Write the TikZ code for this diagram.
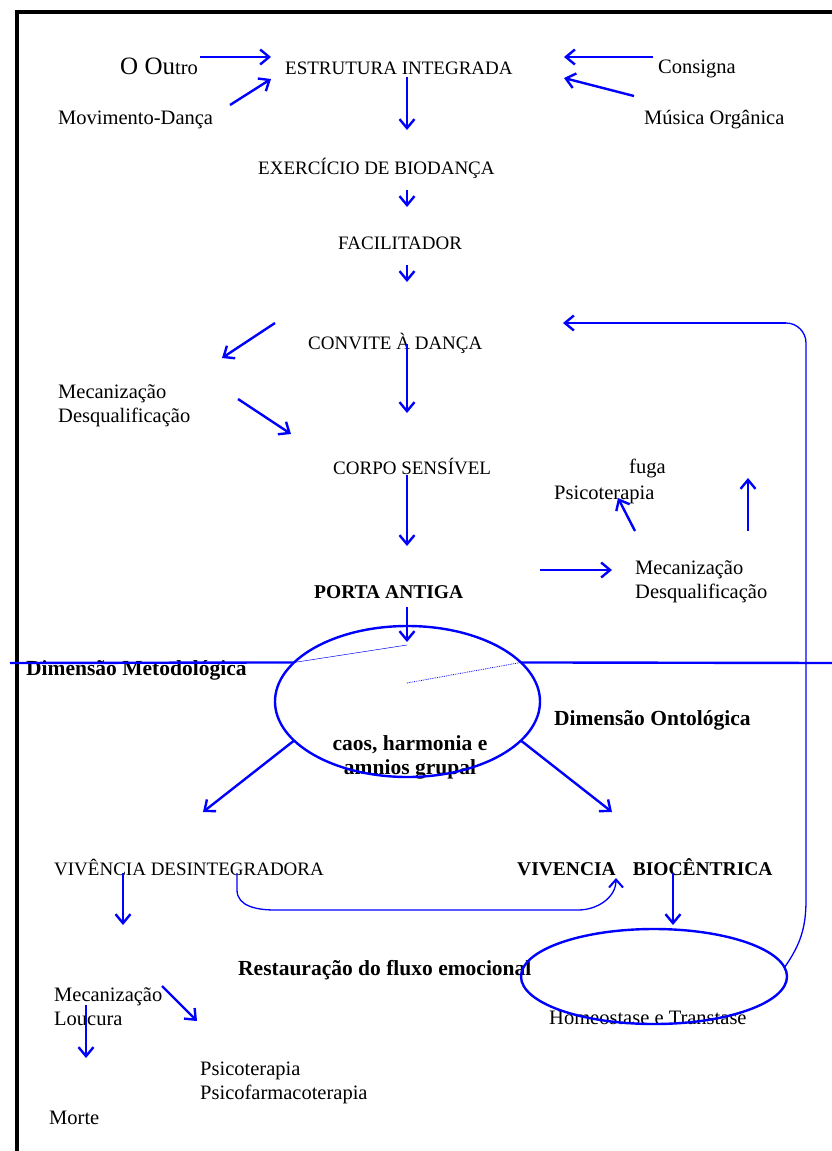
\documentclass[tikz,border=0pt]{standalone}
\usepackage{fontspec}
\setmainfont{Liberation Serif}
\usetikzlibrary{arrows.meta,shapes.geometric}
\newcommand{\bodysize}{\fontsize{20.5}{24}\selectfont}
\newcommand{\capsize}{\fontsize{19}{24}\selectfont}

\begin{document}
\begin{tikzpicture}[x=1pt, y=-1pt,
    txt/.style={anchor=base west, inner sep=0pt, font=\bodysize, align=left},
    caps/.style={txt, font=\capsize},
    txtb/.style={txt, font=\fontsize{21.5}{24}\selectfont\bfseries},
    capsb/.style={txt, font=\fontsize{19.5}{24}\selectfont\bfseries},
    flow/.style={draw=blue, line width=2.4pt, -{Straight Barb[length=9pt,width=15pt]}},
    thinline/.style={draw=blue, line width=1.3pt},
    ring/.style={ellipse, draw=blue, line width=2.4pt, inner sep=0pt, outer sep=0pt}]
  \useasboundingbox (0,0) rectangle (832,1151);
  \draw[line width=4pt] (832,12) -| (17,1151);

  % texts
  \node[txt] (outro) at (120,74) {{\fontsize{25}{30}\selectfont O Ou}tro};
  \node[caps] (estrutura) at (285,74) {ESTRUTURA INTEGRADA};
  \node[txt] (consigna) at (658,73) {Consigna};
  \node[txt] (movimento) at (58,124) {Movimento-Dança};
  \node[txt] (musica) at (644,124) {Música Orgânica};
  \node[caps] (exercicio) at (258,174) {EXERCÍCIO DE BIODANÇA};
  \node[caps] (facilitador) at (338,249) {FACILITADOR};
  \node[caps] (convite) at (308,349) {CONVITE À DANÇA};
  \node[txt] (mecA) at (58,422) {Mecanização\\Desqualificação};
  \node[caps] (corpo) at (333,474) {CORPO SENSÍVEL};
  \node[capsb] (porta) at (314,598) {PORTA ANTIGA};
  \node[txt] (fuga) at (629,473) {fuga};
  \node[txt] (psicoA) at (554,499) {Psicoterapia};
  \node[txt] (mecB) at (635,598) {Mecanização\\Desqualificação};
  \node[txtb] (metodo) at (26,675) {Dimensão Metodológica};
  \node[txtb] (onto) at (554,725) {Dimensão Ontológica};
  \node[txtb, align=center, anchor=base] (caostxt) at (410,774) {caos, harmonia e\\amnios grupal};
  \node[caps] (desint) at (54,875) {VIVÊNCIA DESINTEGRADORA};
  \node[capsb] (biocen) at (517,875) {VIVENCIA\hspace{17pt}BIOCÊNTRICA};
  \node[txtb] (restaura) at (238,975) {Restauração do fluxo emocional};
  \node[txt] (mecC) at (54,1025) {Mecanização\\Loucura};
  \node[txt] (psicoB) at (200,1099) {Psicoterapia\\Psicofarmacoterapia};
  \node[txt] (morte) at (49,1124) {Morte};
  \node[txt] (homeotxt) at (549,1024) {Homeostase e Transtase};

  % ellipses
  \node[ring, minimum width=265pt, minimum height=151pt] (caos) at (407.5,701.5) {};
  \node[ring, minimum width=266pt, minimum height=95pt] (homeo) at (654,976.5) {};

  % arrow ends
  \coordinate (outroS) at (200,57);  \coordinate (outroT) at (271,57);
  \coordinate (movS) at (230,105);   \coordinate (movT) at (271,79);
  \coordinate (consS) at (653,57);   \coordinate (consT) at (564,57);
  \coordinate (musS) at (634,96);    \coordinate (musT) at (564,78);
  \coordinate (estS) at (407,77);    \coordinate (estT) at (407,130);
  \coordinate (exS) at (407,190);    \coordinate (exT) at (407,207);
  \coordinate (facS) at (407,265);   \coordinate (facT) at (407,282);
  \coordinate (convL) at (275,323);  \coordinate (convLT) at (222,358);
  \coordinate (mecAS) at (238,399);  \coordinate (mecAT) at (291,434);
  \coordinate (convS) at (407,344);  \coordinate (convT) at (407,413);
  \coordinate (corpoS) at (407,475); \coordinate (corpoT) at (407,546);
  \coordinate (portaR) at (540,570); \coordinate (portaRT) at (612,570);
  \coordinate (fugaS) at (635,531);  \coordinate (fugaT) at (618,498);
  \coordinate (upS) at (748,531);    \coordinate (upT) at (748,478);
  \coordinate (portaS) at (407,607); \coordinate (portaT) at (407,642);
  \coordinate (desA) at (203,812);   \coordinate (bioA) at (612,812);
  \coordinate (desS) at (123,873);   \coordinate (desT) at (123,925);
  \coordinate (bioS) at (673,873);   \coordinate (bioT) at (673,925);
  \coordinate (mecCS) at (162,986);  \coordinate (mecCT) at (197,1021);
  \coordinate (louS) at (86,1005);   \coordinate (louT) at (86,1058);
  \coordinate (cvA) at (237,873);    \coordinate (cvL) at (275,910);
  \coordinate (cvB) at (578,910);    \coordinate (cvC) at (616,878);
  \coordinate (fbA) at (806,900);    \coordinate (fbB) at (806,323);
  \coordinate (fbC) at (786,323);    \coordinate (fbT) at (563,323);
  \coordinate (divL) at (10,663);    \coordinate (divR) at (832,663);
  \coordinate (inA) at (407,645);    \coordinate (inB) at (407,683);

  % connectors
  \draw[flow] (outroS) -- (outroT);
  \draw[flow] (movS) -- (movT);
  \draw[flow] (consS) -- (consT);
  \draw[flow] (musS) -- (musT);
  \draw[flow] (estS) -- (estT);
  \draw[flow] (exS) -- (exT);
  \draw[flow] (facS) -- (facT);
  \draw[flow] (convL) -- (convLT);
  \draw[flow] (mecAS) -- (mecAT);
  \draw[flow] (convS) -- (convT);
  \draw[flow] (corpoS) -- (corpoT);
  \draw[flow] (portaR) -- (portaRT);
  \draw[flow] (fugaS) -- (fugaT);
  \draw[flow] (upS) -- (upT);
  \draw[flow] (portaS) -- (portaT);
  \draw[flow] (caos.199) -- (desA);
  \draw[flow] (caos.-19) -- (bioA);
  \draw[flow] (desS) -- (desT);
  \draw[flow] (bioS) -- (bioT);
  \draw[flow] (mecCS) -- (mecCT);
  \draw[flow] (louS) -- (louT);
  \draw[thinline, -{Straight Barb[length=8pt,width=14pt,line width=2pt]}]
    (cvA) -- (237,890) to[out=-90,in=180] (cvL) -- (cvB) to[out=0,in=-90] (cvC);
  \draw[thinline] (homeo.4) to[out=55,in=-90] (fbA) {[rounded corners=20pt] -- (fbB) -- (fbC)};
  \draw[flow] (fbC) -- (fbT);

  % dimension line
  \draw[draw=blue, line width=2.4pt] (divL) -- (caos.161);
  \draw[draw=blue, line width=2.4pt] (caos.19) -- (divR);
  \draw[draw=blue, line width=0.5pt] (caos.161) -- (inA);
  \draw[draw=blue, line width=0.8pt, densely dotted] (inB) -- (caos.19);
\end{tikzpicture}
\end{document}
